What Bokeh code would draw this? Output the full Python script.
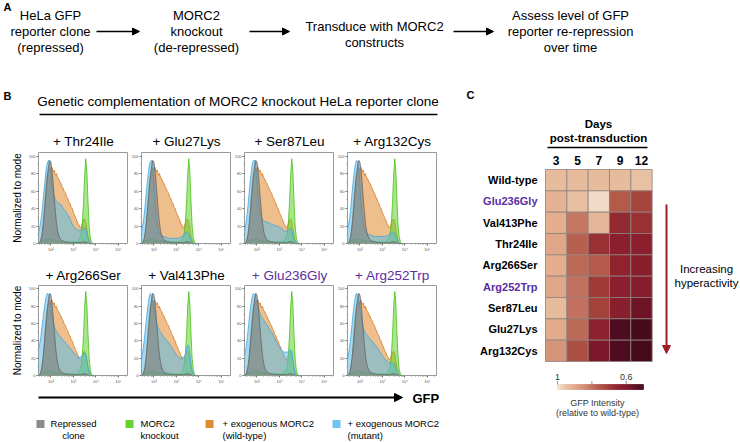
import numpy as np
from bokeh.plotting import figure
from bokeh.models import Range1d, FixedTicker, ColumnDataSource, LinearColorMapper, Arrow, NormalHead
from bokeh.layouts import column, row
from bokeh.core.properties import value
from bokeh.transform import transform
from bokeh.embed import file_html
from bokeh.resources import INLINE

FONT = "Liberation Sans"

# ---------------- data ----------------
flow_steps = [
    ["HeLa GFP", "reporter clone", "(repressed)"],
    ["MORC2", "knockout", "(de-repressed)"],
    ["Transduce with MORC2", "constructs"],
    ["Assess level of GFP", "reporter re-repression", "over time"],
]
panel_b_title = "Genetic complementation of MORC2 knockout HeLa reporter clone"
hist_row1 = ["Thr24Ile", "Glu27Lys", "Ser87Leu", "Arg132Cys"]
hist_row2 = ["Arg266Ser", "Val413Phe", "Glu236Gly", "Arg252Trp"]
highlighted = ["Glu236Gly", "Arg252Trp"]

gfp_log10_bins = [1.45, 1.50, 1.55, 1.60, 1.65, 1.70, 1.75, 1.80, 1.85, 1.90,
                  1.95, 2.00, 2.05, 2.10, 2.15, 2.20, 2.25, 2.30, 2.35, 2.40,
                  2.45, 2.50, 2.55, 2.60, 2.65, 2.70, 2.75, 2.80, 2.85, 2.90,
                  2.95, 3.00, 3.05, 3.10, 3.15, 3.20, 3.25, 3.30, 3.35, 3.40,
                  3.45, 3.50, 3.55, 3.60, 3.65, 3.70, 3.75, 3.80, 3.85, 3.90, 3.95]

repressed_clone = [0, 1, 4, 10, 20, 33, 48, 63, 78, 89, 95, 93, 84, 69, 52, 36, 23, 14, 9, 6,
                   4, 3, 3, 2, 2, 2, 1, 1, 1, 1, 1, 1, 1, 1, 1, 1, 1, 1, 1, 2,
                   2, 2, 2, 1, 1, 0, 0, 0, 0, 0, 0]
morc2_knockout = [0, 0, 1, 2, 3, 4, 4, 5, 5, 5, 5, 5, 4, 4, 4, 3, 3, 3, 3,
                  2, 2, 2, 2, 2, 2, 2, 2, 2, 2, 2, 2, 2, 2, 2, 2,
                  3, 4, 7, 12, 24, 46, 78, 97, 82, 48, 20, 7, 2, 0, 0, 0]
exogenous_wt = [0, 0, 2, 7, 18, 36, 56, 71, 80, 84, 86, 84, 87, 82, 84, 78, 80, 75, 74, 70,
                69, 65, 63, 59, 58, 53, 52, 47, 46, 41, 40, 35, 33, 29, 27, 23, 21, 18, 19, 23,
                27, 28, 25, 17, 9, 4, 1, 0, 0, 0, 0]

mutant_thr24ile = [12, 18, 25, 35, 48, 62, 75, 86, 93, 95, 90, 80, 68, 58, 53, 50, 48, 47, 46, 45,
                   44, 42, 40, 38, 37, 35, 33, 31, 28, 25, 22, 20, 18, 17, 16, 15, 15, 15, 15, 16,
                   17, 18, 16, 11, 6, 3, 1, 0, 0, 0, 0]
mutant_glu27lys = [14, 20, 28, 40, 55, 68, 80, 90, 94, 95, 88, 70, 48, 32, 22, 16, 12, 10, 9, 8,
                   8, 7, 7, 7, 6, 6, 6, 6, 6, 6, 6, 6, 6, 6, 7, 7, 8, 9, 10, 12,
                   13, 13, 11, 7, 4, 2, 1, 0, 0, 0, 0]
mutant_ser87leu = [15, 21, 30, 42, 56, 70, 82, 91, 95, 95, 88, 70, 52, 40, 33, 29, 27, 26, 25, 25,
                   24, 24, 23, 23, 22, 22, 21, 21, 20, 20, 19, 19, 18, 17, 16, 15, 14, 14, 14, 15,
                   16, 17, 15, 10, 5, 2, 1, 0, 0, 0, 0]
mutant_arg132cys = [16, 22, 30, 42, 57, 70, 82, 91, 95, 94, 86, 68, 47, 32, 23, 17, 14, 12, 11, 10,
                    10, 9, 9, 9, 8, 8, 8, 8, 8, 8, 8, 8, 8, 8, 8, 9, 9, 10, 11, 12,
                    13, 13, 11, 7, 4, 2, 1, 0, 0, 0, 0]
mutant_arg266ser = [30, 36, 44, 55, 66, 76, 85, 92, 95, 93, 86, 76, 68, 62, 57, 54, 51, 49, 47, 45,
                    44, 42, 41, 39, 38, 36, 35, 33, 31, 30, 28, 27, 25, 24, 22, 21, 21, 21, 22, 23,
                    25, 26, 24, 18, 10, 4, 1, 0, 0, 0, 0]
mutant_val413phe = [20, 27, 36, 48, 61, 73, 84, 92, 95, 92, 86, 78, 70, 62, 58, 55, 52, 50, 48, 46,
                    44, 43, 41, 40, 38, 36, 34, 32, 30, 28, 26, 24, 22, 21, 20, 20, 20, 21, 22, 25,
                    30, 35, 34, 25, 13, 5, 1, 0, 0, 0, 0]
mutant_glu236gly = [22, 29, 38, 50, 63, 75, 85, 92, 95, 93, 89, 85, 80, 75, 71, 68, 66, 64, 62, 60,
                    58, 56, 54, 52, 50, 48, 45, 43, 40, 38, 35, 33, 31, 29, 28, 27, 27, 27, 27, 28,
                    29, 30, 28, 19, 9, 3, 1, 0, 0, 0, 0]
mutant_arg252trp = [18, 25, 34, 46, 59, 72, 83, 91, 95, 93, 87, 78, 68, 60, 55, 52, 49, 47, 45, 44,
                    42, 41, 39, 38, 36, 35, 33, 31, 29, 27, 25, 23, 21, 19, 18, 17, 16, 15, 14, 14,
                    14, 14, 12, 8, 4, 2, 1, 0, 0, 0, 0]
mutant_curves = {
    "Thr24Ile": mutant_thr24ile, "Glu27Lys": mutant_glu27lys,
    "Ser87Leu": mutant_ser87leu, "Arg132Cys": mutant_arg132cys,
    "Arg266Ser": mutant_arg266ser, "Val413Phe": mutant_val413phe,
    "Glu236Gly": mutant_glu236gly, "Arg252Trp": mutant_arg252trp,
}

legend_labels = [["Repressed", "clone"], ["MORC2", "knockout"],
                 ["+ exogenous MORC2", "(wild-type)"], ["+ exogenous MORC2", "(mutant)"]]

days = ["3", "5", "7", "9", "12"]
heatmap_rows = ["Wild-type", "Glu236Gly", "Val413Phe", "Thr24Ile", "Arg266Ser",
                "Arg252Trp", "Ser87Leu", "Glu27Lys", "Arg132Cys"]
gfp_wild_type = [0.935, 0.935, 0.935, 0.935, 0.945]
gfp_glu236gly = [0.92, 0.94, 0.985, 0.76, 0.72]
gfp_val413phe = [0.91, 0.81, 0.925, 0.665, 0.685]
gfp_thr24ile = [0.895, 0.77, 0.685, 0.64, 0.64]
gfp_arg266ser = [0.91, 0.785, 0.76, 0.65, 0.635]
gfp_arg252trp = [0.895, 0.80, 0.70, 0.64, 0.625]
gfp_ser87leu = [0.935, 0.80, 0.715, 0.635, 0.57]
gfp_glu27lys = [0.905, 0.785, 0.645, 0.515, 0.50]
gfp_arg132cys = [0.86, 0.74, 0.595, 0.515, 0.495]
gfp_rel = [gfp_wild_type, gfp_glu236gly, gfp_val413phe, gfp_thr24ile, gfp_arg266ser,
           gfp_arg252trp, gfp_ser87leu, gfp_glu27lys, gfp_arg132cys]
colorbar_ticks = [1.0, 0.8, 0.6]
colorbar_labels = ["1", "", "0.6"]

# ---------------- style ----------------
PURPLE = "#5c2e9e"
C_GRAY = ("#7a7a7a", "#666666")
C_GREEN = ("#5fd42a", "#49bf1b")
C_ORANGE = ("#e08a2e", "#d47a22")
C_BLUE = ("#5bbde8", "#3fa6de")
LEGEND_SWATCH = ["#8c8c8c", "#66d22e", "#e08a34", "#6cc4f0"]

anchor_vals = [0.48, 0.52, 0.56, 0.60, 0.64, 0.68, 0.72, 0.76, 0.80, 0.84, 0.88, 0.92, 0.96, 1.00]
anchor_cols = ["#3f0a1b", "#4f0c20", "#6a1226", "#7e1a2b", "#8b1f2d", "#982f33", "#a6453d",
               "#b45a4a", "#c27160", "#d08a70", "#dc9f80", "#e4b393", "#ebc8ac", "#f4e4d4"]


def hex2rgb(h):
    return [int(h[i:i + 2], 16) for i in (1, 3, 5)]


anchor_rgb = np.array([hex2rgb(c) for c in anchor_cols], dtype=float)
palette = []
for t in np.linspace(0.48, 1.0, 256):
    rgb = [int(round(np.interp(t, anchor_vals, anchor_rgb[:, k]))) for k in range(3)]
    palette.append("#%02x%02x%02x" % tuple(rgb))
mapper = LinearColorMapper(palette=palette, low=0.48, high=1.0)


def canvas(w, h):
    p = figure(width=w, height=h, x_range=Range1d(0, w), y_range=Range1d(h, 0),
               x_axis_type=None, y_axis_type=None, toolbar_location=None,
               output_backend="svg", min_border=0)
    p.outline_line_color = None
    p.background_fill_color = "white"
    p.border_fill_color = "white"
    return p


def put_text(p, xs, ys, texts, size, align="center", bold=False, colors="black",
             angle=0.0, baseline="middle", **kw):
    p.text(x=xs, y=ys, text=texts, text_font=value(FONT), text_font_size=size,
           text_align=align, text_baseline=baseline,
           text_font_style="bold" if bold else "normal", text_color=colors,
           angle=angle, **kw)


def arrow(p, x0, y0, x1, y1, color="black", lw=1.6, size=7):
    p.add_layout(Arrow(end=NormalHead(size=size, fill_color=color, line_color=color, line_width=1),
                       x_start=x0, y_start=y0, x_end=x1, y_end=y1,
                       line_color=color, line_width=lw))


# ---------------- panel A ----------------
pa = canvas(740, 86)
put_text(pa, [3], [6], ["A"], "11px", align="left", bold=True)
block_x = [50, 196, 374, 570]
for bx, lines in zip(block_x, flow_steps):
    ys = [15, 31, 47] if len(lines) == 3 else [26, 42]
    put_text(pa, [bx] * len(lines), ys, lines, "13px")
for x0, x1 in [(96, 139), (249, 289), (453, 493)]:
    arrow(pa, x0, 31, x1, 31)

# ---------------- panel B ----------------
def title_color(n):
    return PURPLE if n in highlighted else "black"


headB = canvas(448, 34)
put_text(headB, [3], [9], ["B"], "11px", align="left", bold=True)
put_text(headB, [237.5], [14.5], [panel_b_title], "13.5px")
headB.segment(x0=[39], y0=[28], x1=[437], y1=[28], line_color="black", line_width=1.4)

ylab = canvas(25, 268)
put_text(ylab, [17, 17], [77.5, 210], ["Normalized to mode"] * 2, "10px", angle=np.pi / 2)

frame_centers = [58, 161, 264, 367]
tstrip1 = canvas(423, 30)
put_text(tstrip1, frame_centers, [21] * 4, ["+ " + n for n in hist_row1], "13.5px",
         colors=[title_color(n) for n in hist_row1])
tstrip2 = canvas(423, 27)
put_text(tstrip2, frame_centers, [19] * 4, ["+ " + n for n in hist_row2], "13.5px",
         colors=[title_color(n) for n in hist_row2])

minor_x = [float(np.log10(k * 10 ** d)) for d in range(1, 6) for k in range(2, 10)
           if 1.45 < np.log10(k * 10 ** d) < 5.45]


def hist_fig(name, h):
    p = figure(width=103, height=h, x_range=Range1d(1.45, 5.45), y_range=Range1d(0, 104),
               toolbar_location=None, output_backend="svg",
               min_border_left=13, min_border_right=0, min_border_top=2, min_border_bottom=13)
    series = [(exogenous_wt, C_ORANGE), (morc2_knockout, C_GREEN),
              (mutant_curves[name], C_BLUE), (repressed_clone, C_GRAY)]
    for vals, (fc, lc) in series:
        p.varea(x=gfp_log10_bins, y1=0, y2=vals, fill_color=fc, fill_alpha=0.55)
        p.line(x=gfp_log10_bins, y=vals, line_color=lc, line_width=0.8)
    p.grid.visible = False
    p.outline_line_color = "#9a9a9a"
    p.background_fill_color = "white"
    p.xaxis.ticker = FixedTicker(ticks=[2, 3, 4, 5], minor_ticks=minor_x)
    p.xaxis.major_label_overrides = {2: "10²", 3: "10³", 4: "10⁴", 5: "10⁵"}
    p.yaxis.ticker = FixedTicker(ticks=[0, 20, 40, 60, 80, 100], minor_ticks=[10, 30, 50, 70, 90])
    for ax in (p.xaxis[0], p.yaxis[0]):
        ax.major_label_text_font = FONT
        ax.major_label_text_font_size = "4px"
        ax.major_label_text_color = "#555555"
        ax.major_label_standoff = 1
        ax.major_tick_out = 2
        ax.major_tick_in = 0
        ax.minor_tick_out = 1
        ax.minor_tick_in = 0
        ax.axis_line_color = None
        ax.major_tick_line_color = "#777777"
        ax.minor_tick_line_color = "#999999"
    return p


row1 = row(*[hist_fig(n, 106) for n in hist_row1])
row2 = row(*[hist_fig(n, 105) for n in hist_row2])
grid_col = column(tstrip1, row1, tstrip2, row2)

footB = canvas(448, 54)
arrow(footB, 38, 9, 402, 9, lw=2, size=8)
put_text(footB, [412], [10], ["GFP"], "13px", align="left", bold=True)
sw_x = [40, 129, 209, 336]
footB.rect(x=sw_x, y=[35.5] * 4, width=8, height=8, fill_color=LEGEND_SWATCH, line_color=None)
put_text(footB, [73, 73], [35, 47], legend_labels[0], "9.5px")
for tx, lab in zip([140, 222, 347], legend_labels[1:]):
    put_text(footB, [tx, tx], [35, 47], lab, "9.5px", align="left")

colB = column(headB, row(ylab, grid_col), footB)

# ---------------- panel C ----------------
CW, CH = 292, 356
CELL = 21.333
pc = canvas(CW, CH)
pc.extra_x_ranges = {"hx": Range1d(-97 / CELL, (CW - 97) / CELL),
                     "cbx": Range1d(1 + 109 / 172, 1 - (CW - 109) / 172)}
pc.extra_y_ranges = {"hy": Range1d((CH - 83) / CELL, -83 / CELL)}

hx, hy, hv = [], [], []
for i, rname in enumerate(heatmap_rows):
    for j, d in enumerate(days):
        hx.append(j + 0.5)
        hy.append(i + 0.5)
        hv.append(gfp_rel[i][j])
hsrc = ColumnDataSource(dict(x=hx, y=hy, v=hv))
pc.rect(x="x", y="y", width=1, height=1, source=hsrc, fill_color=transform("v", mapper),
        line_color="#8f817c", line_width=0.8, x_range_name="hx", y_range_name="hy")

put_text(pc, [-0.375] * len(heatmap_rows), [i + 0.5 for i in range(len(heatmap_rows))],
         heatmap_rows, "11px", align="right", bold=True,
         colors=[title_color(n) for n in heatmap_rows], x_range_name="hx", y_range_name="hy")
put_text(pc, [j + 0.5 for j in range(len(days))], [-0.4] * len(days), days, "12px",
         bold=True, x_range_name="hx", y_range_name="hy")

put_text(pc, [18], [8], ["C"], "11px", align="left", bold=True)
put_text(pc, [150], [37], ["Days"], "11.5px", bold=True)
put_text(pc, [150], [51], ["post-transduction"], "11.5px", bold=True)
pc.segment(x0=[99], y0=[61], x1=[199], y1=[61], line_color="black", line_width=1.4)

arrow(pc, 218, 118, 218, 267, color="#a01c26", lw=2, size=8)
put_text(pc, [258, 258], [182, 196], ["Increasing", "hyperactivity"], "11.5px")

cb_edges = np.linspace(1.0, 0.5, 121)
cb_src = ColumnDataSource(dict(left=cb_edges[:-1], right=cb_edges[1:],
                               v=(cb_edges[:-1] + cb_edges[1:]) / 2))
pc.quad(left="left", right="right", top=298, bottom=303, source=cb_src,
        fill_color=transform("v", mapper), line_color=transform("v", mapper),
        line_width=0.6, x_range_name="cbx")
pc.segment(x0=colorbar_ticks, y0=[294.5] * 3, x1=colorbar_ticks, y1=[298] * 3,
           line_color="#777777", line_width=0.8, x_range_name="cbx")
put_text(pc, colorbar_ticks, [290] * 3, colorbar_labels, "9px", colors="#333333",
         x_range_name="cbx")
put_text(pc, [149, 149], [316, 326], ["GFP Intensity", "(relative to wild-type)"], "9px",
         colors="#333333")

layout = column(pa, row(colB, pc))

with open("out.html", "w") as f:
    f.write(file_html(layout, INLINE))
